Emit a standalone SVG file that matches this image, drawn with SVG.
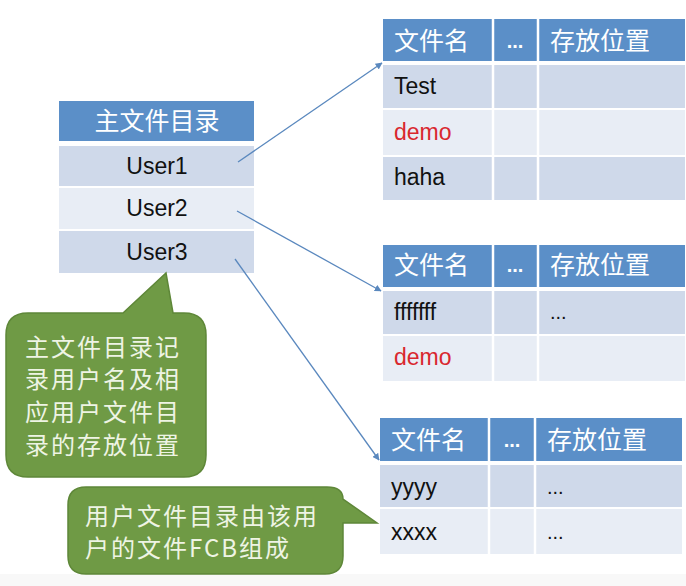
<svg xmlns="http://www.w3.org/2000/svg" width="686" height="586" viewBox="0 0 686 586">
<style>
.hd{fill:#5b8fc8}
.r1{fill:#cfd9ea}
.r2{fill:#e8edf5}
.sep{stroke:#ffffff;stroke-width:2.5}
.cjkw{font-family:"Noto Sans CJK SC","Noto Sans",sans-serif;font-size:25px;fill:#ffffff}
.lat{font-family:"Liberation Sans","Noto Sans",sans-serif;font-size:23px;fill:#111111}
.red{fill:#d9272e}
.dots{font-family:"Liberation Sans",sans-serif;font-size:20px;font-weight:bold;fill:#ffffff}
.dotsb{font-family:"Liberation Sans",sans-serif;font-size:20px;fill:#111111}
.bub{fill:#6f9a45;stroke:#5e8738;stroke-width:1.5}
.bt{font-family:"Noto Sans CJK SC","Noto Sans",sans-serif;font-size:24px;letter-spacing:2px;fill:#eef4e4}
.conn{stroke:#5a88be;stroke-width:1.3;fill:none}
</style>
<defs>
<marker id="ah" viewBox="0 0 10 10" refX="9" refY="5" markerWidth="7" markerHeight="7" orient="auto" markerUnits="userSpaceOnUse">
<path d="M0,0 L10,5 L0,10 Z" fill="#5a88be"/>
</marker>
</defs>
<rect x="0" y="0" width="686" height="586" fill="#ffffff"/>
<rect x="0" y="574" width="686" height="12" fill="#f8f8f8"/>

<g id="main-dir">
<rect class="hd" x="59" y="101" width="195" height="40"/>
<rect class="r1" x="59" y="146" width="195" height="40"/>
<rect class="r2" x="59" y="188" width="195" height="41"/>
<rect class="r1" x="59" y="231" width="195" height="42"/>
<text class="cjkw" x="157" y="130" text-anchor="middle" font-size="26">主文件目录</text>
<text class="lat" x="157" y="174" text-anchor="middle">User1</text>
<text class="lat" x="157" y="216" text-anchor="middle">User2</text>
<text class="lat" x="157" y="260" text-anchor="middle">User3</text>
</g>

<g id="ufd1">
<rect class="hd" x="383" y="19" width="302" height="42"/>
<rect class="r1" x="383" y="65" width="302" height="43"/>
<rect class="r2" x="383" y="110" width="302" height="45"/>
<rect class="r1" x="383" y="157" width="302" height="43"/>
<line class="sep" x1="493" y1="19" x2="493" y2="200"/>
<line class="sep" x1="538" y1="19" x2="538" y2="200"/>
<text class="cjkw" x="394" y="50">文件名</text>
<text class="dots" x="515" y="48" text-anchor="middle">...</text>
<text class="cjkw" x="550" y="50">存放位置</text>
<text class="lat" x="394" y="94">Test</text>
<text class="lat red" x="394" y="140">demo</text>
<text class="lat" x="394" y="185">haha</text>
</g>

<g id="ufd2">
<rect class="hd" x="383" y="245" width="302" height="42"/>
<rect class="r1" x="383" y="291" width="302" height="43"/>
<rect class="r2" x="383" y="336" width="302" height="45"/>
<line class="sep" x1="493" y1="245" x2="493" y2="381"/>
<line class="sep" x1="538" y1="245" x2="538" y2="381"/>
<text class="cjkw" x="394" y="274">文件名</text>
<text class="dots" x="515" y="272" text-anchor="middle">...</text>
<text class="cjkw" x="550" y="274">存放位置</text>
<text class="lat" x="394" y="320">fffffff</text>
<text class="dotsb" x="550" y="319">...</text>
<text class="lat red" x="394" y="365">demo</text>
</g>

<g id="ufd3">
<rect class="hd" x="380" y="418" width="302" height="43"/>
<rect class="r1" x="380" y="465" width="302" height="42"/>
<rect class="r2" x="380" y="509" width="302" height="45"/>
<line class="sep" x1="489" y1="418" x2="489" y2="554"/>
<line class="sep" x1="535" y1="418" x2="535" y2="554"/>
<text class="cjkw" x="391" y="449">文件名</text>
<text class="dots" x="512" y="447" text-anchor="middle">...</text>
<text class="cjkw" x="547" y="449">存放位置</text>
<text class="lat" x="391" y="495">yyyy</text>
<text class="dotsb" x="547" y="494">...</text>
<text class="lat" x="391" y="540">xxxx</text>
<text class="dotsb" x="547" y="539">...</text>
</g>

<g id="connectors">
<line class="conn" x1="238" y1="162" x2="382" y2="63" marker-end="url(#ah)"/>
<line class="conn" x1="237" y1="211" x2="381" y2="291" marker-end="url(#ah)"/>
<line class="conn" x1="235" y1="259" x2="379" y2="460" marker-end="url(#ah)"/>
</g>

<g id="callout-main">
<path class="bub" d="M28 313 L123 313 L166 273 L173 313 L184 313 Q206 313 206 335 L206 455 Q206 477 184 477 L28 477 Q6 477 6 455 L6 335 Q6 313 28 313 Z"/>
<text class="bt" x="25" y="356">主文件目录记</text>
<text class="bt" x="25" y="388">录用户名及相</text>
<text class="bt" x="25" y="421">应用户文件目</text>
<text class="bt" x="25" y="454">录的存放位置</text>
</g>

<g id="callout-user">
<path class="bub" d="M86 487 L327 487 Q343 487 343 499 L377 523 L343 523 L343 556 Q343 574 325 574 L86 574 Q68 574 68 556 L68 505 Q68 487 86 487 Z"/>
<text class="bt" x="85" y="525">用户文件目录由该用</text>
<text class="bt" x="85" y="557">户的文件FCB组成</text>
</g>
</svg>
